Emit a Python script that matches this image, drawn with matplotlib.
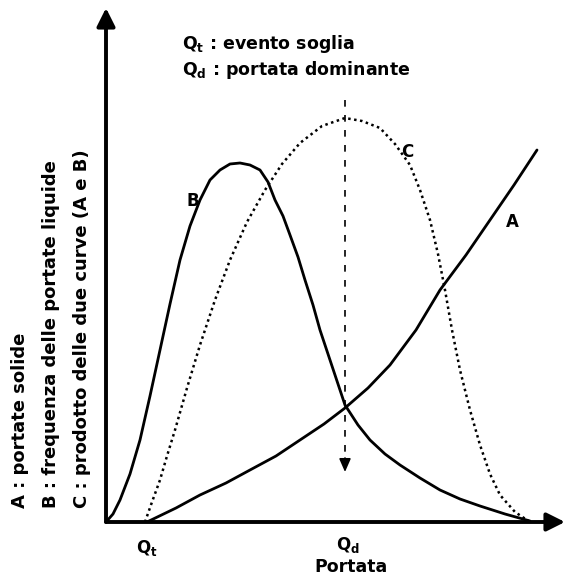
import matplotlib.pyplot as plt

plt.rcParams['font.family'] = ['DejaVu Sans']

# curve values (x = portata, y = value)
a_x = [41, 70, 94, 120, 144, 170, 194, 218, 239, 262, 284, 310, 334, 360, 384, 408, 431]
a_y = [0, 14, 27, 39, 52, 66, 82, 98, 114, 134, 157, 192, 232, 267, 302, 337, 372]

b_x = [0, 7, 14, 24, 34, 44, 54, 64, 74, 84, 94, 104, 114, 124, 134, 144, 154, 162,
       169, 177, 184, 192, 199, 207, 214, 222, 229, 239, 252, 264, 279, 294, 314,
       334, 354, 374, 399, 424]
b_y = [0, 8, 22, 48, 82, 126, 172, 218, 262, 296, 322, 342, 352, 358, 359, 357, 352,
       340, 322, 306, 287, 265, 242, 217, 192, 168, 147, 117, 97, 82, 68, 57, 44,
       32, 23, 16, 8, 1]

c_x = [39, 46, 54, 61, 69, 81, 94, 109, 124, 141, 159, 176, 194, 216, 239, 256,
       274, 289, 304, 314, 324, 332, 339, 346, 354, 364, 374, 384, 394, 409, 424]
c_y = [0, 20, 42, 66, 92, 134, 177, 222, 262, 300, 332, 358, 379, 396, 404, 401,
       394, 378, 357, 332, 302, 268, 232, 192, 152, 112, 77, 48, 27, 10, 0]

q_t = 41
q_d = 239

fig = plt.figure(figsize=(5.65, 5.78), dpi=100)
ax = fig.add_axes([106 / 565, 56 / 578, 459 / 565, 514 / 578])
ax.set_xlim(0, 459)
ax.set_ylim(0, 514)
ax.axis('off')

ax.plot(b_x, b_y, color='black', lw=2.0, solid_capstyle='round')
ax.plot(a_x, a_y, color='black', lw=2.0, solid_capstyle='round')
ax.plot(c_x, c_y, color='black', lw=1.8, linestyle=(0, (1, 1.4)))

# axes with arrows
ax.annotate('', xy=(0, 1.0), xytext=(0, 0), xycoords='axes fraction',
            arrowprops=dict(arrowstyle='-|>,head_length=1.1,head_width=0.55',
                            color='black', lw=2.8, shrinkA=0, shrinkB=0))
ax.annotate('', xy=(1.0, 0), xytext=(0, 0), xycoords='axes fraction',
            arrowprops=dict(arrowstyle='-|>,head_length=1.1,head_width=0.55',
                            color='black', lw=2.8, shrinkA=0, shrinkB=0))

# dashed line at Qd
ax.plot([q_d, q_d], [422, 62], color='black', lw=1.2, linestyle=(0, (4, 5)))
ax.annotate('', xy=(q_d, 50), xytext=(q_d, 64),
            arrowprops=dict(arrowstyle='-|>,head_length=0.8,head_width=0.35',
                            color='black', lw=1.2, shrinkA=0, shrinkB=0))

fs = 12
ax.text(87, 321, 'B', fontsize=fs, fontweight='bold', ha='center', va='center')
ax.text(301, 370, 'C', fontsize=fs, fontweight='bold', ha='center', va='center')
ax.text(406, 300, 'A', fontsize=fs, fontweight='bold', ha='center', va='center')

ax.text(q_t, -26, r'Q$_\mathregular{t}$', fontsize=fs, fontweight='bold',
        ha='center', va='center', clip_on=False)
ax.text(q_d + 3, -23, r'Q$_\mathregular{d}$', fontsize=fs, fontweight='bold',
        ha='center', va='center', clip_on=False)
ax.text(q_d + 6, -45, 'Portata', fontsize=12.5, fontweight='bold',
        ha='center', va='center', clip_on=False)

ax.text(76, 478, r'Q$_\mathregular{t}$ : evento soglia', fontsize=12.5,
        fontweight='bold', ha='left', va='center', clip_on=False)
ax.text(76, 452, r'Q$_\mathregular{d}$ : portata dominante', fontsize=12.5,
        fontweight='bold', ha='left', va='center', clip_on=False)

ylabels = ['A : portate solide',
           'B : frequenza delle portate liquide',
           'C : prodotto delle due curve (A e B)']
for i, lab in enumerate(ylabels):
    fig.text((20 + 31 * i) / 565, (578 - 508) / 578, lab, rotation=90,
             fontsize=13, fontweight='bold', ha='center', va='bottom')

fig.savefig('out.png', dpi=100)
